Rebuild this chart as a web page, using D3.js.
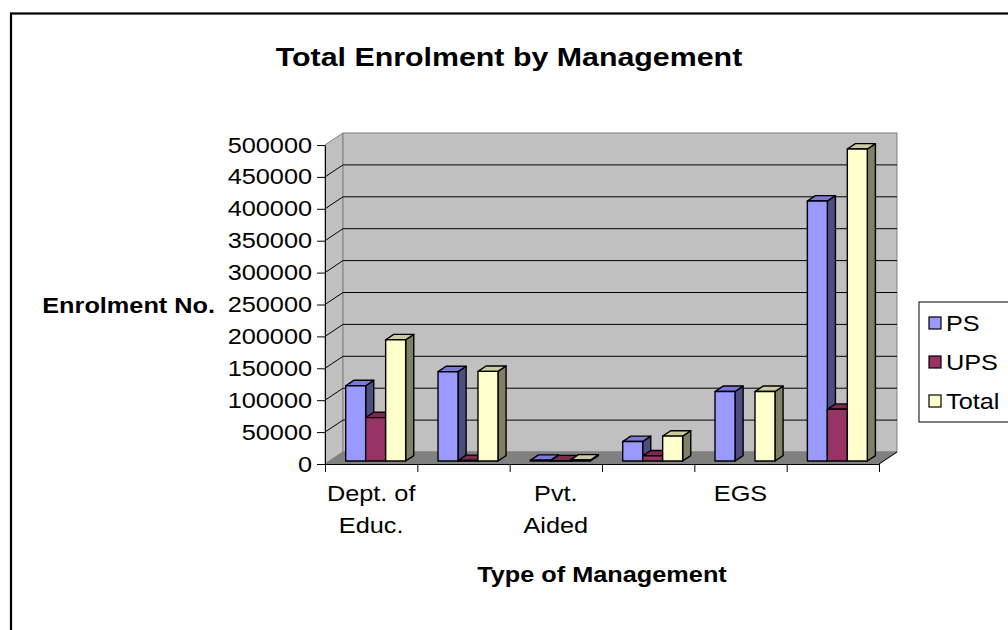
<!DOCTYPE html>
<html>
<head>
<meta charset="utf-8">
<script src="https://cdn.jsdelivr.net/npm/d3@7"></script>
<style>
  html, body { margin: 0; padding: 0; background: #fff; }
  svg { display: block; font-family: "Liberation Sans", Arial, sans-serif; }
</style>
</head>
<body>
<svg id="chart" width="1008" height="630"></svg>
<script>
// ---- data ----
const categories = ["Dept. of Educ.", "Local Body", "Pvt. Aided", "Pvt. Unaided", "EGS", "Total"];
const categoryLabels = [["Dept. of", "Educ."], [], ["Pvt.", "Aided"], [], ["EGS"], []];
const seriesNames = ["PS", "UPS", "Total"];
const psValues    = [118000, 140000, 1200, 30500, 109000, 407500];
const upsValues   = [68000,  800,    300,  8000,  0,      81000];
const totalValues = [190000, 140500, 1500, 39000, 109000, 489000];
const yTicks = [0, 50000, 100000, 150000, 200000, 250000, 300000, 350000, 400000, 450000, 500000];
const titleText = "Total Enrolment by Management";
const yTitle = "Enrolment No.";
const xTitle = "Type of Management";

// ---- styles ----
const frontColors = ["#9999FF", "#993366", "#FFFFCC"];
const topColors   = ["#7A7AD6", "#7A2952", "#CCCCA3"];
const sideColors  = ["#4D4D80", "#4D1A33", "#808066"];
const SX = 1.15; // horizontal text stretch

const svg = d3.select("#chart");
const seriesValues = [psValues, upsValues, totalValues];

// plot geometry (front plane)
const x0 = 325, x1 = 879, yBase = 464, yTop = 145;
const DX = 18, DY = -12;            // full depth offset
const barDepthPos = 0.25, barDepth = 0.45;

const xBand = d3.scaleBand().domain(categories).range([x0, x1]).padding(0);
const bw = xBand.bandwidth();
const xInner = d3.scaleBand().domain(seriesNames).range([0, bw]).paddingInner(0).paddingOuter(0.81);
const y = d3.scaleLinear().domain([0, 500000]).range([yBase, yTop]);

// outer border
svg.append("rect").attr("x", 11).attr("y", 13.5).attr("width", 1100).attr("height", 700)
  .attr("fill", "none").attr("stroke", "#000").attr("stroke-width", 2.2);

// walls
const g = svg.append("g");
g.append("polygon")
  .attr("points", [[x0, y(0)], [x0 + DX, y(0) + DY], [x0 + DX, y(500000) + DY], [x0, y(500000)]].join(" "))
  .attr("fill", "#C0C0C0").attr("stroke", "#808080");
g.append("rect").attr("x", x0 + DX).attr("y", y(500000) + DY)
  .attr("width", x1 - x0).attr("height", y(0) - y(500000))
  .attr("fill", "#C0C0C0").attr("stroke", "#808080");
// gridlines
const gridVals = yTicks.filter(v => v > 0 && v < 500000);
g.selectAll("line.gb").data(gridVals).join("line")
  .attr("x1", x0 + DX).attr("x2", x1 + DX)
  .attr("y1", d => y(d) + DY).attr("y2", d => y(d) + DY)
  .attr("stroke", "#000").attr("stroke-width", 1);
g.selectAll("line.gl").data(gridVals).join("line")
  .attr("x1", x0).attr("x2", x0 + DX)
  .attr("y1", d => y(d)).attr("y2", d => y(d) + DY)
  .attr("stroke", "#000").attr("stroke-width", 1);
// floor
g.append("polygon")
  .attr("points", [[x0, y(0)], [x1, y(0)], [x1 + DX, y(0) + DY], [x0 + DX, y(0) + DY]].join(" "))
  .attr("fill", "#808080").attr("stroke", "#808080");
g.append("line").attr("x1", x1).attr("y1", y(0)).attr("x2", x1 + DX).attr("y2", y(0) + DY)
  .attr("stroke", "#000");

// bars
const bars = svg.append("g").attr("stroke", "#000").attr("stroke-width", 1.4).attr("stroke-linejoin", "round");
const ox = DX * barDepthPos, oy = DY * barDepthPos;
const bdx = DX * barDepth, bdy = DY * barDepth;
categories.forEach((c, ci) => {
  seriesNames.forEach((s, si) => {
    const v = seriesValues[si][ci];
    if (!v) return;
    const xl = xBand(c) + xInner(s) + ox;
    const xr = xl + xInner.bandwidth();
    const yt = y(v) + oy;
    const yb = y(0) + oy;
    // side
    bars.append("polygon")
      .attr("points", [[xr, yb], [xr + bdx, yb + bdy], [xr + bdx, yt + bdy], [xr, yt]].join(" "))
      .attr("fill", sideColors[si]);
    // top
    bars.append("polygon")
      .attr("points", [[xl, yt], [xr, yt], [xr + bdx, yt + bdy], [xl + bdx, yt + bdy]].join(" "))
      .attr("fill", topColors[si]);
    // front
    bars.append("rect").attr("x", xl).attr("y", yt).attr("width", xr - xl).attr("height", yb - yt)
      .attr("fill", frontColors[si]);
  });
});

// y axis
const yAxisG = svg.append("g").attr("transform", `translate(${x0},0)`)
  .call(d3.axisLeft(y).tickValues(yTicks).tickFormat(d3.format("d")).tickSize(8).tickPadding(4).tickSizeOuter(0));
yAxisG.select(".domain").attr("stroke", "#000");
yAxisG.selectAll(".tick line").attr("stroke", "#000");
yAxisG.selectAll(".tick text")
  .attr("x", -13 / SX).attr("transform", `scale(${SX},1)`)
  .attr("font-size", 22).attr("font-family", "Liberation Sans, Arial, sans-serif").attr("fill", "#000");

// x axis (category boundaries)
const xIdx = d3.scaleLinear().domain([0, categories.length]).range([x0, x1]);
const xAxisG = svg.append("g").attr("transform", `translate(0,${yBase})`)
  .call(d3.axisBottom(xIdx).tickValues(d3.range(categories.length + 1)).tickFormat("").tickSize(8).tickSizeOuter(0));
xAxisG.select(".domain").attr("stroke", "#000");
xAxisG.selectAll(".tick line").attr("stroke", "#000");

// category labels
const lbl = svg.append("g").attr("font-size", 22).attr("fill", "#000").attr("text-anchor", "middle");
categories.forEach((c, ci) => {
  const lines = categoryLabels[ci];
  if (!lines.length) return;
  const t = lbl.append("text")
    .attr("transform", `translate(${xBand(c) + bw / 2},501) scale(${SX},1)`);
  lines.forEach((ln, li) => t.append("tspan").attr("x", 0).attr("y", li * 32).text(ln));
});

// titles
svg.append("text").attr("transform", `translate(509,66) scale(${SX},1)`)
  .attr("text-anchor", "middle").attr("font-size", 26.4).attr("font-weight", "bold").text(titleText);
svg.append("text").attr("transform", `translate(215,313) scale(${SX},1)`)
  .attr("text-anchor", "end").attr("font-size", 22).attr("font-weight", "bold").text(yTitle);
svg.append("text").attr("transform", `translate(${(x0 + x1) / 2},582) scale(${SX},1)`)
  .attr("text-anchor", "middle").attr("font-size", 22).attr("font-weight", "bold").text(xTitle);

// legend
const leg = svg.append("g");
leg.append("rect").attr("x", 919).attr("y", 302).attr("width", 120).attr("height", 120)
  .attr("fill", "#fff").attr("stroke", "#000").attr("stroke-width", 1);
const rowY = [323, 362, 401];
seriesNames.forEach((s, si) => {
  leg.append("rect").attr("x", 929).attr("y", rowY[si] - 6).attr("width", 12).attr("height", 12)
    .attr("fill", frontColors[si]).attr("stroke", "#000").attr("stroke-width", 1.2);
  leg.append("text").attr("transform", `translate(946,${rowY[si] + 8}) scale(${SX},1)`)
    .attr("font-size", 22).attr("fill", "#000").text(s);
});
</script>
</body>
</html>
